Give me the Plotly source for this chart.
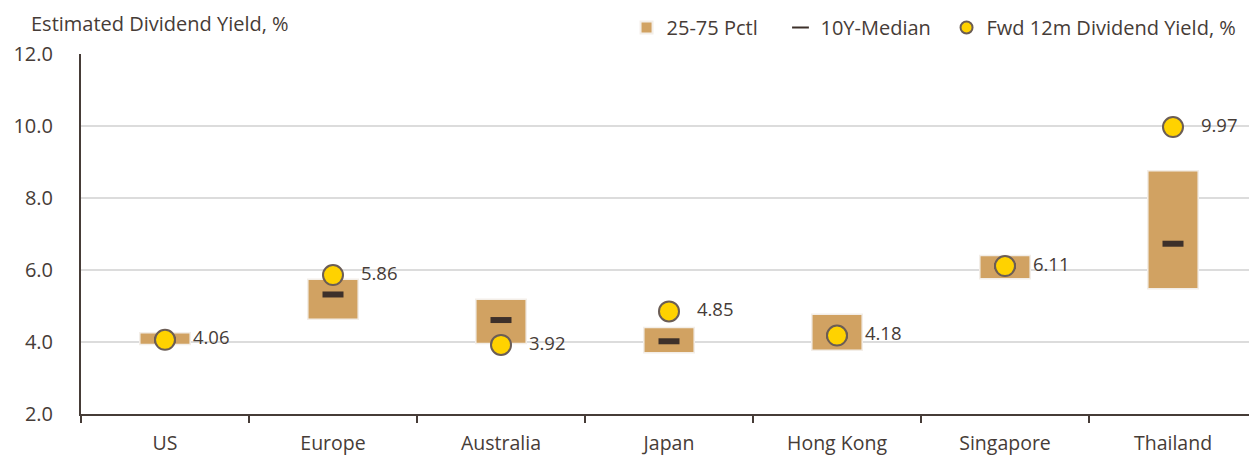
import plotly.graph_objects as go

categories = ["US", "Europe", "Australia", "Japan", "Hong Kong", "Singapore", "Thailand"]
pctl25 = [3.93, 4.63, 3.96, 3.70, 3.77, 5.76, 5.48]
pctl75 = [4.26, 5.74, 5.19, 4.40, 4.77, 6.40, 8.76]
median10y = [4.06, 5.32, 4.61, 4.02, 4.18, 6.11, 6.73]
fwd12m = [4.06, 5.86, 3.92, 4.85, 4.18, 6.11, 9.97]
y_ticks = [2, 4, 6, 8, 10, 12]

TXT = "#463c37"
FONT = "Open Sans"

fig = go.Figure()
fig.add_trace(go.Bar(
    x=categories, y=[b - a for a, b in zip(pctl25, pctl75)], base=pctl25,
    width=0.3, name="25-75 Pctl", legend="legend",
    marker=dict(color="#D1A262", line=dict(color="#f3eee8", width=1.5)),
    hoverinfo="skip",
))
fig.add_trace(go.Scatter(
    x=categories, y=median10y, mode="markers", name="10Y-Median", legend="legend2",
    marker=dict(symbol="line-ew", size=15, color="#3d302a",
                line=dict(color="#3d302a", width=6)),
))
fig.add_trace(go.Scatter(
    x=categories, y=fwd12m, mode="markers+text", name="Fwd 12m Dividend Yield, %",
    legend="legend3",
    text=[f"   {v:.2f}" for v in fwd12m], textposition="middle right",
    textfont=dict(size=18.5, color=TXT, family=FONT),
    marker=dict(symbol="circle", size=20, color="#FFD200",
                line=dict(color="#6b5d55", width=2)),
    cliponaxis=False,
))

leg_common = dict(orientation="h", xanchor="left", y=1.075, yanchor="middle",
                  font=dict(size=20, color=TXT, family=FONT), itemsizing="constant",
                  bgcolor="rgba(0,0,0,0)")

fig.update_layout(
    width=1249, height=452,
    margin=dict(l=73, r=0, t=45, b=46),
    plot_bgcolor="white", paper_bgcolor="white",
    font=dict(family=FONT, color=TXT, size=19),
    showlegend=True,
    legend=dict(x=0.4639, **leg_common),
    legend2=dict(x=0.5948, **leg_common),
    legend3=dict(x=0.736, **leg_common),
    xaxis=dict(type="category", range=[-0.5, 6.5], showgrid=False,
               showline=True, linecolor="#463c37", linewidth=2,
               ticks="outside", tickson="boundaries", ticklen=7, tickwidth=2,
               tickcolor="#463c37", tickfont=dict(size=19.5, color=TXT),
               ticklabelstandoff=11),
    yaxis=dict(range=[2, 12], tickvals=y_ticks, tickformat=".1f",
               showgrid=True, gridcolor="#dcdcdc", gridwidth=2,
               showline=True, linecolor="#463c37", linewidth=2,
               zeroline=False, ticks="", tickfont=dict(size=20, color=TXT),
               ticklabelstandoff=22),
    annotations=[dict(text="Estimated Dividend Yield, %", xref="paper", yref="paper",
                      x=-0.044, y=1.085, xanchor="left", yanchor="middle", showarrow=False,
                      font=dict(size=20, color=TXT, family=FONT))],
)

fig.write_html("out.html")
